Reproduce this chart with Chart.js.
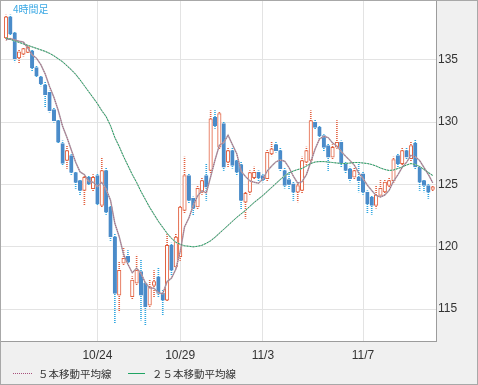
<!DOCTYPE html>
<html>
<head>
<meta charset="utf-8">
<script src="https://cdn.jsdelivr.net/npm/chart.js@4"></script>
<style>
  html, body { margin: 0; padding: 0; background: #f0f0f0; }
  canvas { display: block; }
</style>
</head>
<body>
<canvas id="c" width="478" height="385"></canvas>
<script>
// 4時間足 OHLC
const openP = [136.76,138.44,137.16,135.16,135.46,135.6,135.72,134.38,133.64,133.0,
  132.4,131.0,130.12,128.28,126.92,127.32,125.96,125.32,124.52,125.58,
  124.66,125.72,123.32,126.12,123.19,120.79,116.12,118.68,119.24,116.0,
  117.08,118.0,117.08,115.32,116.9,117.58,116.28,115.72,120.12,118.38,
  119.2,122.92,125.72,123.88,123.19,124.39,125.72,126.12,130.39,128.0,
  129.88,126.78,127.72,126.92,126.6,123.58,124.39,125.54,125.98,125.72,
  125.46,127.46,128.2,127.72,126.12,125.4,125.05,124.39,124.52,126.78,
  126.92,129.98,129.58,128.92,128.12,127.18,128.0,128.38,126.66,126.26,
  125.58,125.6,125.86,124.39,123.98,123.32,124.12,124.4,124.92,125.3,
  127.32,126.66,127.72,127.06,128.3,126.38,125.32,124.92,124.6];
const highP = [138.6,138.6,137.2,135.8,136.0,136.1,135.8,134.5,133.7,133.2,
  132.5,131.1,130.2,128.5,128.1,127.4,126.0,125.4,125.7,125.7,
  125.8,125.9,127.18,126.3,123.3,121.0,118.8,119.88,119.7,117.6,
  119.32,118.96,117.2,117.32,118.1,118.28,116.5,121.08,120.3,121.0,
  123.3,127.2,125.9,124.0,124.9,125.5,126.68,130.92,130.92,130.78,
  130.0,127.9,127.9,127.0,126.8,124.4,126.1,126.4,126.1,125.8,
  127.8,128.38,128.4,127.9,126.3,126.0,125.2,125.1,127.2,128.0,
  130.92,130.2,129.7,129.0,128.3,128.2,130.12,128.5,126.8,126.4,
  126.3,126.8,126.0,124.5,124.1,124.92,125.32,125.4,125.5,127.2,
  127.5,127.9,127.9,128.38,128.6,126.5,125.4,125.0,124.9];
const lowP = [136.6,137.0,134.84,134.76,135.3,135.5,134.06,133.6,132.9,131.2,
  130.8,130.0,128.28,126.5,126.28,125.8,124.68,124.12,123.32,124.9,
  124.5,123.3,123.2,122.6,120.5,113.88,114.78,118.5,118.6,115.8,
  116.9,114.12,113.72,115.1,116.0,116.0,114.52,115.6,117.7,118.2,
  118.9,122.7,123.5,122.5,123.0,124.2,123.72,125.9,129.5,127.8,
  126.12,126.4,126.3,125.7,123.0,122.28,124.2,125.4,125.3,125.2,
  125.3,127.3,127.6,126.1,124.7,124.6,123.72,123.6,124.3,126.6,
  126.7,129.4,128.6,127.7,126.12,127.0,127.9,126.4,125.9,125.2,
  125.4,124.4,124.2,122.68,122.6,123.1,124.0,124.2,124.8,125.1,
  126.4,126.5,127.0,126.9,126.2,124.52,124.4,123.88,124.5];
const closeP = [138.44,137.08,135.08,135.64,135.9,136.0,134.38,133.72,133.06,132.2,
  130.92,130.12,128.39,126.68,127.72,125.96,125.16,124.52,125.58,125.05,
  125.58,123.45,126.12,122.78,120.79,116.25,118.12,119.08,118.76,117.32,
  118.12,116.12,115.18,116.78,117.2,116.25,115.72,120.12,118.12,120.78,
  123.19,125.72,123.72,123.08,124.68,125.32,124.78,130.26,129.72,130.68,
  126.38,127.72,126.52,125.98,123.72,124.28,125.96,125.98,125.54,125.38,
  127.58,127.86,127.72,126.26,124.92,125.0,124.39,124.92,126.92,127.72,
  130.12,129.58,128.92,127.98,127.18,127.98,128.38,126.66,126.12,125.46,
  126.12,125.3,124.39,123.45,123.32,124.12,124.68,125.2,125.32,127.0,
  126.66,127.72,127.18,128.12,126.4,125.18,124.92,124.39,124.8];

// moving averages as drawn
const ma5 = [136.6,136.7,136.6,136.5,136.43,135.94,135.40,135.13,134.61,133.87,
  132.86,132.00,130.94,129.66,128.77,127.77,126.78,126.01,125.79,125.25,
  125.18,124.84,125.16,124.60,123.74,121.88,120.81,119.40,118.60,117.91,
  118.28,117.88,117.10,116.70,116.68,116.31,116.23,117.21,117.48,118.20,
  119.59,121.59,122.31,123.30,124.08,124.50,124.32,125.62,126.95,128.15,
  128.36,128.95,128.20,127.46,126.06,125.64,125.29,125.18,125.10,125.43,
  126.09,126.47,126.82,126.96,126.87,126.35,125.66,125.10,125.23,125.79,
  126.81,127.85,128.65,128.86,128.76,128.33,128.09,127.64,127.26,126.92,
  126.55,125.93,125.48,124.94,124.52,124.12,123.99,124.15,124.53,125.26,
  125.77,126.38,126.78,127.34,127.22,126.92,126.36,125.80,125.14];
const ma25 = [136.76,136.64,136.52,136.40,136.28,136.16,136.04,135.92,135.80,135.68,
  135.52,135.32,135.08,134.84,134.52,134.20,133.84,133.40,132.92,132.44,
  131.96,131.48,130.92,130.44,129.72,128.76,128.04,127.24,126.52,125.80,
  125.16,124.44,123.80,123.16,122.60,122.04,121.56,121.08,120.68,120.36,
  120.20,120.08,120.04,120.00,120.04,120.12,120.28,120.48,120.76,121.08,
  121.40,121.72,122.04,122.36,122.64,122.92,123.24,123.56,123.84,124.12,
  124.44,124.76,125.08,125.40,125.68,125.92,126.08,126.20,126.28,126.48,
  126.68,126.80,126.84,126.84,126.80,126.76,126.72,126.68,126.68,126.72,
  126.76,126.76,126.72,126.68,126.60,126.48,126.32,126.20,126.12,126.16,
  126.28,126.40,126.56,126.68,126.60,126.44,126.20,125.96,125.72];

const tickIdx = [21, 40, 59, 82];
const tickText = ['10/24', '10/29', '11/3', '11/7'];
const yTicks = [115, 120, 125, 130, 135];
const maNames = ['５本移動平均線', '２５本移動平均線'];

const UP = '#e2603f', DOWN = '#4a8bc9', DOWN_WICK = '#2fa6e0';
const MA5_COL = '#a8507c', MA25_COL = '#1fa463';

// dotted fill for the wicks
function dots(color) {
  const c = document.createElement('canvas');
  c.width = 1; c.height = 2;
  const g = c.getContext('2d');
  g.fillStyle = color;
  g.fillRect(0, 0, 1, 1);
  return document.getElementById('c').getContext('2d').createPattern(c, 'repeat');
}
const upDots = dots(UP), downDots = dots(DOWN_WICK);

const idx = closeP.map((_, i) => i);
const isUp = i => closeP[i] >= openP[i];
const pts = arr => idx.map(i => ({x: i, y: arr[i]}));

const frame = {
  id: 'frame',
  beforeDraw(chart) {
    const {ctx, chartArea: a} = chart;
    ctx.save();
    ctx.fillStyle = '#f0f0f0';
    ctx.fillRect(0, 0, chart.width, chart.height);
    ctx.fillStyle = '#fff';
    ctx.fillRect(a.left, a.top, a.right - a.left, a.bottom - a.top);
    ctx.restore();
  },
  afterDraw(chart) {
    const {ctx, chartArea: a} = chart;
    ctx.save();
    ctx.strokeStyle = '#9c9c9c';
    ctx.lineWidth = 1;
    ctx.strokeRect(a.left - 0.5, a.top - 0.5, a.right - a.left + 1, a.bottom - a.top + 1);
    ctx.strokeStyle = '#a8a8a8';
    ctx.strokeRect(0.5, 0.5, chart.width - 1, chart.height - 1);

    ctx.fillStyle = '#3aa8e4';
    ctx.font = '10px "Noto Sans CJK JP"';
    ctx.textBaseline = 'middle';
    ctx.fillText('4時間足', 13, 9);

    // legend
    const y = 373.5;
    ctx.lineWidth = 1;
    ctx.strokeStyle = MA5_COL;
    ctx.setLineDash([1, 1]);
    ctx.beginPath(); ctx.moveTo(13, y); ctx.lineTo(32, y); ctx.stroke();
    ctx.setLineDash([]);
    ctx.strokeStyle = MA25_COL;
    ctx.beginPath(); ctx.moveTo(128, y); ctx.lineTo(145, y); ctx.stroke();
    ctx.fillStyle = '#333';
    ctx.font = '10.5px "Noto Sans CJK JP"';
    ctx.fillText(maNames[0], 38, y + 0.5);
    ctx.fillText(maNames[1], 152, y + 0.5);
    ctx.restore();
  }
};

new Chart(document.getElementById('c'), {
  type: 'bar',
  data: {
    datasets: [
      { type: 'line', label: maNames[0], data: pts(ma5), borderColor: MA5_COL, borderWidth: 1,
        borderDash: [1, 1], pointRadius: 0, order: 0 },
      { type: 'line', label: maNames[1], data: pts(ma25), borderColor: MA25_COL, borderWidth: 1,
        borderDash: [2, 1], pointRadius: 0, order: 0 },
      { type: 'line', label: 'shadow5', data: pts(ma5), borderColor: '#b4b4b4', borderWidth: 1.5,
        pointRadius: 0, order: 1 },
      { type: 'line', label: 'shadow25', data: pts(ma25), borderColor: '#c8c8c8', borderWidth: 1.2,
        pointRadius: 0, order: 1 },
      { label: 'body', data: idx.map(i => ({x: i, y: [openP[i], closeP[i]]})),
        backgroundColor: idx.map(i => isUp(i) ? '#ffffff' : DOWN),
        borderColor: idx.map(i => isUp(i) ? UP : DOWN),
        borderWidth: 1, borderSkipped: false, barThickness: 3.5, grouped: false, order: 2 },
      { label: 'wick', data: idx.map(i => ({x: i, y: [lowP[i], highP[i]]})),
        backgroundColor: idx.map(i => isUp(i) ? upDots : downDots),
        barThickness: 1, grouped: false, order: 3 }
    ]
  },
  options: {
    responsive: false,
    animation: false,
    events: [],
    layout: { padding: { left: 1, top: 1, right: 0, bottom: 0 } },
    plugins: { legend: { display: false }, tooltip: { enabled: false } },
    scales: {
      x: {
        type: 'linear', min: -1.15, max: 98.76, offset: false,
        afterBuildTicks: a => { a.ticks = tickIdx.map(v => ({value: v})); },
        afterFit: a => { a.height = 44; a.paddingLeft = 0; a.paddingRight = 0; },
        grid: { color: '#e3e3e3', drawTicks: false, offset: false },
        border: { display: false },
        ticks: { autoSkip: false, maxRotation: 0, padding: 7, color: '#333',
          font: { family: 'Liberation Sans', size: 12 },
          callback: v => tickText[tickIdx.indexOf(v)] }
      },
      y: {
        position: 'right', min: 112.44, max: 139.72,
        afterBuildTicks: a => { a.ticks = yTicks.map(v => ({value: v})); },
        afterFit: a => { a.width = 42; a.paddingTop = 0; a.paddingBottom = 0; },
        grid: { color: '#e3e3e3', drawTicks: false },
        border: { display: false },
        ticks: { padding: 2, color: '#333', font: { family: 'Liberation Sans', size: 12 },
          callback: v => String(v) }
      }
    }
  },
  plugins: [frame]
});
</script>
</body>
</html>
